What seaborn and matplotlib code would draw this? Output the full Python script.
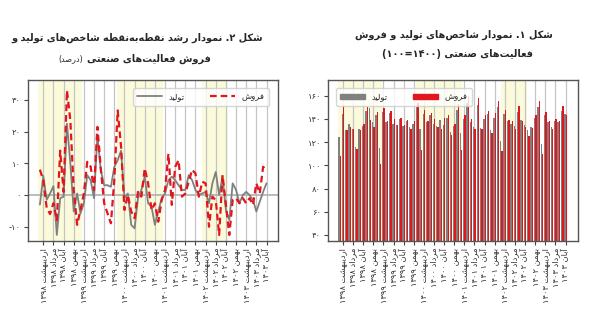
import re
import numpy as np
import pandas as pd
import matplotlib
matplotlib.use("Agg")
import matplotlib.pyplot as plt
import seaborn as sns
from matplotlib import font_manager, ft2font
from matplotlib.patches import Patch
from matplotlib.lines import Line2D
from matplotlib.ticker import FuncFormatter, FixedLocator

# ---------------------------------------------------------------- data
MONTH_NAMES = ["فروردین", "اردیبهشت", "خرداد", "تیر", "مرداد", "شهریور",
               "مهر", "آبان", "آذر", "دی", "بهمن", "اسفند"]
START_YEAR = 1398
N_MONTHS = 68                       # فروردین ۱۳۹۸ .. آبان ۱۴۰۳
TICK_MONTHS = list(range(1, N_MONTHS, 3))

# point-to-point growth (%)
sales_growth = [8, 4.7, -4, -6, -2.6, -8, 14, 1, 33, 23.6,
                1.6, -9.4, -4.7, 0.5, 10.5, 9, 1.6, 21.5, 8.4, -2.6,
                -5.8, -8.9, 4.7, 26.7, 15.2, -4.7, 0, -5.2, -7.3, 1,
                -0.5, 8.4, 3.7, -4.7, -2.6, -8.4, -1.6, 1.6, 13, -3.1,
                8.9, 11, -0.5, 0.5, 4.2, 8, 6.8, -0.5, 4.2, 3.7,
                -10, -0.5, -1.6, -12.6, 6.3, -3.1, -12.6, -1.6, -1, -2.6,
                -1, -2.6, -1, -3.1, 3.7, 0.5, 8.9, 7.9]
prod_growth = [-3, 6, -1.5, 0.5, 2.8, -12.6, -1, -0.5, 22.5, 10,
               -5.2, 0.5, -5.8, -2.6, 6.3, 4.7, -1, 18.8, 7.9, 3.1,
               3.1, 2.6, 8.9, 11, 14, -1, 0.5, -9.4, -10.5, -1,
               1.6, 5.8, -2.6, -3.7, -9.4, -5.2, -1, 0.5, 4.7, 5.8,
               4.7, 3.1, 1.6, 1.6, 6.3, 4.7, 1.6, 0, 0.5, 1,
               -2.6, 3.7, 7.3, 0, 5.8, -4.7, -7.9, 3.7, 1.6, -2.6,
               0, 1, 0, -1.6, -5.2, -2.1, 1, 3.7]

# index values (1400 = 100)
sales_index = [108, 152, 130, 133, 131, 114, 130, 136, 150, 139, 133, 146,
               101, 149, 138, 147, 140, 135, 141, 135, 139, 131, 138, 154,
               113, 148, 138, 145, 140, 133, 131, 141, 143, 126, 136, 153,
               113, 143, 160, 140, 131, 158, 131, 143, 147, 128, 145, 155,
               112, 148, 139, 138, 131, 151, 138, 133, 125, 132, 143, 155,
               110, 146, 138, 131, 140, 138, 151, 143]
prod_index = [124, 144, 130, 136, 131, 116, 131, 134, 147, 149, 137, 143,
              115, 146, 137, 145, 136, 135, 140, 134, 138, 133, 136, 150,
              131, 144, 137, 143, 136, 134, 139, 135, 141, 129, 134, 148,
              128, 140, 154, 137, 133, 152, 132, 140, 144, 130, 141, 150,
              121, 144, 138, 136, 134, 146, 139, 135, 130, 133, 141, 150,
              118, 143, 137, 133, 138, 137, 147, 144]

# shaded periods (month index ranges)
SHADED = [(-0.5, 12.5), (22.8, 36.4), (48.0, 55.6)]

# ---------------------------------------------------------------- Persian text helpers
FA_DIGITS = str.maketrans("0123456789", "۰۱۲۳۴۵۶۷۸۹")

FORMS = {  # isolated, final, initial, medial
    "\u0627": ("\uFE8D", "\uFE8E", None, None),
    "\u0622": ("\uFE81", "\uFE82", None, None),
    "\u0628": ("\uFE8F", "\uFE90", "\uFE91", "\uFE92"),
    "\u067E": ("\uFB56", "\uFB57", "\uFB58", "\uFB59"),
    "\u062A": ("\uFE95", "\uFE96", "\uFE97", "\uFE98"),
    "\u062B": ("\uFE99", "\uFE9A", "\uFE9B", "\uFE9C"),
    "\u062C": ("\uFE9D", "\uFE9E", "\uFE9F", "\uFEA0"),
    "\u0686": ("\uFB7A", "\uFB7B", "\uFB7C", "\uFB7D"),
    "\u062D": ("\uFEA1", "\uFEA2", "\uFEA3", "\uFEA4"),
    "\u062E": ("\uFEA5", "\uFEA6", "\uFEA7", "\uFEA8"),
    "\u062F": ("\uFEA9", "\uFEAA", None, None),
    "\u0630": ("\uFEAB", "\uFEAC", None, None),
    "\u0631": ("\uFEAD", "\uFEAE", None, None),
    "\u0632": ("\uFEAF", "\uFEB0", None, None),
    "\u0698": ("\uFB8A", "\uFB8B", None, None),
    "\u0633": ("\uFEB1", "\uFEB2", "\uFEB3", "\uFEB4"),
    "\u0634": ("\uFEB5", "\uFEB6", "\uFEB7", "\uFEB8"),
    "\u0635": ("\uFEB9", "\uFEBA", "\uFEBB", "\uFEBC"),
    "\u0636": ("\uFEBD", "\uFEBE", "\uFEBF", "\uFEC0"),
    "\u0637": ("\uFEC1", "\uFEC2", "\uFEC3", "\uFEC4"),
    "\u0638": ("\uFEC5", "\uFEC6", "\uFEC7", "\uFEC8"),
    "\u0639": ("\uFEC9", "\uFECA", "\uFECB", "\uFECC"),
    "\u063A": ("\uFECD", "\uFECE", "\uFECF", "\uFED0"),
    "\u0641": ("\uFED1", "\uFED2", "\uFED3", "\uFED4"),
    "\u0642": ("\uFED5", "\uFED6", "\uFED7", "\uFED8"),
    "\u06A9": ("\uFB8E", "\uFB8F", "\uFB90", "\uFB91"),
    "\u06AF": ("\uFB92", "\uFB93", "\uFB94", "\uFB95"),
    "\u0644": ("\uFEDD", "\uFEDE", "\uFEDF", "\uFEE0"),
    "\u0645": ("\uFEE1", "\uFEE2", "\uFEE3", "\uFEE4"),
    "\u0646": ("\uFEE5", "\uFEE6", "\uFEE7", "\uFEE8"),
    "\u0648": ("\uFEED", "\uFEEE", None, None),
    "\u0647": ("\uFEE9", "\uFEEA", "\uFEEB", "\uFEEC"),
    "\u06CC": ("\uFBFC", "\uFBFD", "\uFBFE", "\uFBFF"),
}


def _charmap(weight):
    path = font_manager.findfont(
        font_manager.FontProperties(family="DejaVu Sans", weight=weight))
    return set(ft2font.FT2Font(path).get_charmap().keys())


AVAILABLE = _charmap("normal") & _charmap("bold")


def shape(text):
    out = []
    for i, ch in enumerate(text):
        if ch not in FORMS:
            if ch != "\u200c":
                out.append(ch)
            continue
        prev = text[i - 1] if i > 0 else ""
        nxt = text[i + 1] if i + 1 < len(text) else ""
        join_prev = prev in FORMS and FORMS[prev][2] is not None
        join_next = nxt in FORMS and FORMS[ch][2] is not None
        iso, fin, ini, med = FORMS[ch]
        if join_prev and join_next:
            g = med
        elif join_prev:
            g = fin
        elif join_next:
            g = ini
        else:
            g = iso
        out.append(g if ord(g) in AVAILABLE else ch)
    return "".join(out)


def rtl(text):
    shaped = shape(text)
    tokens = re.findall(r"[0-9\u06F0-\u06F9]+|.", shaped)
    tokens.reverse()
    mirror = {"(": ")", ")": "("}
    return "".join(mirror.get(t, t) for t in tokens)


def fa(n):
    s = str(int(round(n)))
    return ("-" if s.startswith("-") else "") + s.lstrip("-").translate(FA_DIGITS)


tick_labels = [rtl(f"{MONTH_NAMES[m % 12]} {fa(START_YEAR + m // 12)}")
               for m in TICK_MONTHS]

# ---------------------------------------------------------------- frames
month_idx = np.arange(N_MONTHS)
growth_df = pd.DataFrame({"month": month_idx,
                          "sales": sales_growth,
                          "prod": prod_growth})
index_df = pd.concat([
    pd.DataFrame({"month": month_idx, "series": "prod", "value": prod_index}),
    pd.DataFrame({"month": month_idx, "series": "sales", "value": sales_index}),
])

# ---------------------------------------------------------------- figure
sns.set_style("ticks")
plt.rcParams["font.family"] = ["DejaVu Sans"]
plt.rcParams["axes.edgecolor"] = "#555555"
plt.rcParams["axes.linewidth"] = 1.0

GRAY = "#808080"
RED = "#e2161c"
SHADE = "#fbfbdc"
GRID = "#c4c4c4"
TFS = 7.0   # title font size
LFS = 6.0   # label font size

fig = plt.figure(figsize=(6.05, 3.23), dpi=100)
ax1 = fig.add_axes([28 / 605, 1 - 241 / 323, 250 / 605, 161 / 323])
ax2 = fig.add_axes([328 / 605, 1 - 241 / 323, 250 / 605, 161 / 323])

# growth lines
ax1.axhline(0, color="#b0b0b0", lw=1.2, zorder=1)
sns.lineplot(data=growth_df, x="month", y="prod", ax=ax1, color=GRAY,
             lw=1.3, zorder=3)
sns.lineplot(data=growth_df, x="month", y="sales", ax=ax1, color=RED,
             lw=1.6, zorder=4)
ax1.lines[-1].set_dashes((3, 1.8))
ax1.set_xlim(-3.52, 70.4)
ax1.set_ylim(-14.5, 36.3)
ax1.set_yticks([-10, 0, 10, 20, 30])
ax1.legend(handles=[Line2D([], [], color=GRAY, lw=1.3),
                    Line2D([], [], color=RED, lw=1.6, ls=(0, (3, 1.8)))],
           labels=[rtl("تولید"), rtl("فروش")], ncol=2, loc="upper right",
           bbox_to_anchor=(0.98, 0.975), fontsize=LFS, handlelength=3.0,
           columnspacing=3.0, frameon=True, borderpad=0.5)

# index bars
sns.barplot(data=index_df, x="month", y="value", hue="series",
            palette={"prod": GRAY, "sales": RED}, ax=ax2, width=0.8,
            saturation=1, legend=False, zorder=2, edgecolor="none",
            linewidth=0)
ax2.set_xlim(-3.44, 70.7)
ax2.set_ylim(34.8, 173.5)
ax2.set_yticks(range(40, 161, 20))
ax2.legend(handles=[Patch(color=GRAY), Patch(color=RED)],
           labels=[rtl("تولید"), rtl("فروش")], ncol=2, loc="upper left",
           bbox_to_anchor=(0.015, 0.975), fontsize=LFS, handlelength=3.0,
           columnspacing=3.0, frameon=True, borderpad=0.5)

for ax in (ax1, ax2):
    for a, b in SHADED:
        ax.axvspan(a, b, color=SHADE, lw=0, zorder=0)
    ax.xaxis.set_major_locator(FixedLocator(TICK_MONTHS))
    ax.set_xticklabels(tick_labels, rotation=90)
    ax.grid(axis="x", color=GRID, lw=0.9)
    ax.set_axisbelow(True)
    ax.tick_params(axis="both", length=3, width=0.8, color="#444444",
                   labelsize=LFS, labelcolor="#333333", pad=2)
    ax.yaxis.set_major_formatter(FuncFormatter(lambda v, p: fa(v)))
    ax.set_xlabel("")
    ax.set_ylabel("")
    for sp in ax.spines.values():
        sp.set_visible(True)
        sp.set_color("#555555")

# titles
fig.text(137 / 605, 1 - 38 / 323,
         rtl("شکل ۲. نمودار رشد نقطه\u200cبه\u200cنقطه شاخص\u200cهای تولید و"),
         ha="center", va="center", fontsize=TFS, fontweight="bold")
main2 = fig.text(211 / 605, 1 - 59 / 323, rtl("فروش فعالیت\u200cهای صنعتی"),
                 ha="right", va="center", fontsize=TFS, fontweight="bold")
fig.canvas.draw()
x0 = main2.get_window_extent().x0
fig.text((x0 - 4) / 605, 1 - 59 / 323, rtl("(درصد)"),
         ha="right", va="center", fontsize=TFS - 1.2)
fig.text(454 / 605, 1 - 35 / 323,
         rtl("شکل ۱. نمودار شاخص\u200cهای تولید و فروش"),
         ha="center", va="center", fontsize=TFS, fontweight="bold")
fig.text(458 / 605, 1 - 54 / 323,
         rtl("فعالیت\u200cهای صنعتی (۱۴۰۰=۱۰۰)"),
         ha="center", va="center", fontsize=TFS, fontweight="bold")

fig.savefig("out.png", dpi=100, facecolor="white")
